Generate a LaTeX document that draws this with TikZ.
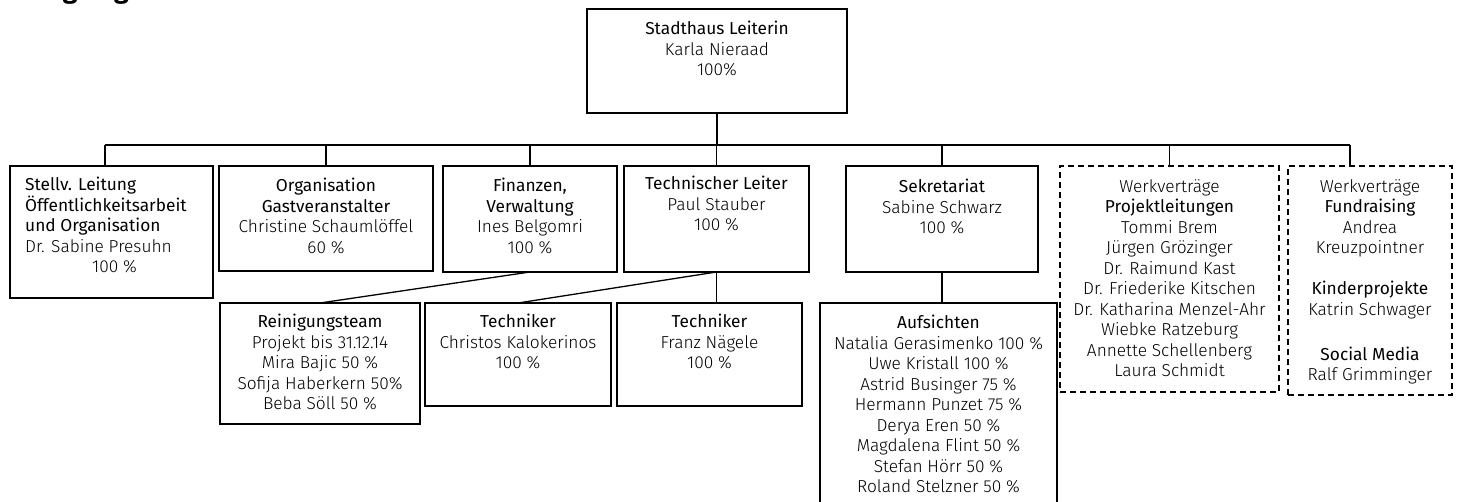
\documentclass[tikz,border=0pt]{standalone}
\usepackage{fontspec}
\IfFontExistsTF{Fira Sans Light}{\setmainfont{Fira Sans Light}}{\setmainfont{Fira Sans}}
\newfontfamily\titlef{Fira Sans}
\newcommand\ti[1]{{\titlef #1}}
\begin{document}
\begin{tikzpicture}[x=1pt,y=-1pt,
  box/.style={draw, line width=1.3pt, rectangle, inner sep=0pt, outer sep=0pt, anchor=north west},
  dbox/.style={box, line width=1.2pt, dash pattern=on 6pt off 4pt},
  txt/.style={inner sep=0pt, align=center, anchor=north, font=\fontsize{17.3}{20.5}\selectfont},
  conn/.style={line width=1.3pt}]
\useasboundingbox (0,0) rectangle (1458,502);
\clip (0,0) rectangle (1458,502);
\fill[white] (0,0) rectangle (1458,502);

\node[anchor=base west, inner sep=0pt, font=\titlef\bfseries\fontsize{26.5}{32}\selectfont] (title) at (34,-1) {Organigramm};

% boxes
\node[box, minimum width=260pt, minimum height=104pt] (top) at (587,9) {};
\node[box, minimum width=203pt, minimum height=132pt] (stv) at (10,166) {};
\node[box, minimum width=214pt, minimum height=105pt] (org) at (219,166) {};
\node[box, minimum width=174pt, minimum height=106pt] (fin) at (443,166) {};
\node[box, minimum width=185pt, minimum height=106pt] (tec) at (624,166) {};
\node[box, minimum width=192pt, minimum height=106pt] (sek) at (846,166) {};
\node[dbox, minimum width=219pt, minimum height=226pt] (d1) at (1060,166) {};
\node[dbox, minimum width=164pt, minimum height=229pt] (d2) at (1288,166) {};
\node[box, minimum width=200pt, minimum height=121pt] (rein) at (220,303) {};
\node[box, minimum width=186pt, minimum height=103pt] (tk1) at (425,303) {};
\node[box, minimum width=185pt, minimum height=103pt] (tk2) at (617,303) {};
\node[box, minimum width=237pt, minimum height=210pt] (auf) at (820,303) {};

% texts
\node[txt] (top-t) at ([yshift=-12pt]top.north) {\ti{Stadthaus Leiterin}\\Karla Nieraad\\100\%};
\node[txt, align=left, anchor=north west] (stv-t) at ([xshift=15pt,yshift=-11pt]stv.north west) {\ti{Stellv. Leitung}\\\ti{Öffentlichkeitsarbeit}\\\ti{und Organisation}\\Dr. Sabine Presuhn\\\hspace*{67pt}100 \%};
\node[txt] (org-t) at ([yshift=-12pt]org.north) {\ti{Organisation}\\\ti{Gastveranstalter}\\Christine Schaumlöffel\\60 \%};
\node[txt] (fin-t) at ([yshift=-12pt]fin.north) {\ti{Finanzen,}\\\ti{Verwaltung}\\Ines Belgomri\\100 \%};
\node[txt] (tec-t) at ([yshift=-10pt]tec.north) {\ti{Technischer Leiter}\\Paul Stauber\\100 \%};
\node[txt] (sek-t) at ([yshift=-13pt]sek.north) {\ti{Sekretariat}\\Sabine Schwarz\\100 \%};
\node[txt] (d1-t) at ([yshift=-13pt]d1.north) {Werkverträge\\\ti{Projektleitungen}\\Tommi Brem\\Jürgen Grözinger\\Dr. Raimund Kast\\Dr. Friederike Kitschen\\Dr. Katharina Menzel-Ahr\\Wiebke Ratzeburg\\Annette Schellenberg\\Laura Schmidt};
\node[txt] (d2-t) at ([yshift=-13pt]d2.north) {Werkverträge\\\ti{Fundraising}\\Andrea\\Kreuzpointner\\[20.5pt]\ti{Kinderprojekte}\\Katrin Schwager\\[24.5pt]\ti{Social Media}\\Ralf Grimminger};
\node[txt] (rein-t) at ([yshift=-11pt]rein.north) {\ti{Reinigungsteam}\\Projekt bis 31.12.14\\Mira Bajic 50 \%\\Sofija Haberkern 50\%\\Beba Söll 50 \%};
\node[txt] (tk1-t) at ([yshift=-11pt]tk1.north) {\ti{Techniker}\\Christos Kalokerinos\\100 \%};
\node[txt] (tk2-t) at ([yshift=-11pt]tk2.north) {\ti{Techniker}\\Franz Nägele\\100 \%};
\node[txt] (auf-t) at ([yshift=-12pt]auf.north) {\ti{Aufsichten}\\Natalia Gerasimenko 100 \%\\Uwe Kristall 100 \%\\Astrid Businger 75 \%\\Hermann Punzet 75 \%\\Derya Eren 50 \%\\Magdalena Flint 50 \%\\Stefan Hörr 50 \%\\Roland Stelzner 50 \%};

% connectors
\coordinate (busL) at (105,145);
\coordinate (busR) at (1350,145);
\draw[conn] (busL) -- (busR);
\draw[conn] (top.south) -- (top.south |- busL);
\draw[conn] (busL) -- (busL |- stv.north);
\draw[conn] (org.north) -- (org.north |- busL);
\draw[conn] (fin.north) -- (fin.north |- busL);
\draw[conn] (tec.north) -- (tec.north |- busL);
\draw[conn] (sek.north) -- (sek.north |- busL);
\draw[conn] (d1.north) -- (d1.north |- busL);
\draw[conn] (busR) -- (busR |- d2.north);
\draw[conn] (fin.south) -- (rein.north);
\draw[conn] (tec.south) -- (tk1.north);
\draw[conn] (tec.south) -- (tec.south |- tk2.north);
\draw[conn] (sek.south) -- (sek.south |- auf.north);
\end{tikzpicture}
\end{document}
